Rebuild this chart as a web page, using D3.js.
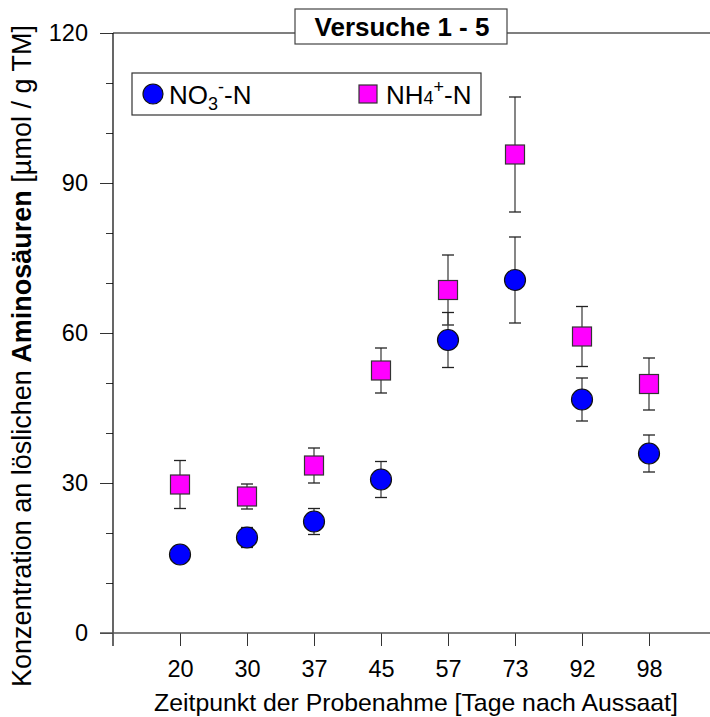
<!DOCTYPE html>
<html>
<head>
<meta charset="utf-8">
<script src="https://cdn.jsdelivr.net/npm/d3@7"></script>
<style>
  html, body { margin: 0; padding: 0; background: #fff; }
  svg { display: block; font-family: Arial, "Liberation Sans", Helvetica, sans-serif; }
</style>
</head>
<body>
<svg id="chart" width="710" height="717"></svg>
<script>
// Sampling days after sowing
const days = [20, 30, 37, 45, 57, 73, 92, 98];

// Soluble amino acids, NO3- fertilised (mean and error)
const no3Mean = [15.7, 19.1, 22.3, 30.7, 58.6, 70.6, 46.7, 35.9];
const no3Err  = [1.0, 2.0, 2.6, 3.6, 5.5, 8.6, 4.3, 3.7];

// Soluble amino acids, NH4+ fertilised (mean and error)
const nh4Mean = [29.7, 27.3, 33.5, 52.5, 68.6, 95.7, 59.3, 49.8];
const nh4Err  = [4.8, 2.5, 3.5, 4.5, 7.0, 11.5, 6.0, 5.2];

const yMajor = [0, 30, 60, 90, 120];
const yMinor = [10, 20, 40, 50, 70, 80, 100, 110];

const svg = d3.select("#chart");

const plotLeft = 113, plotTop = 33, plotBottom = 633, plotRight = 710;
const tickFont = 23.5;

const x = d3.scalePoint().domain(days).range([180, 649]);
const y = d3.scaleLinear().domain([0, 120]).range([plotBottom, plotTop]);

// Top frame line
svg.append("line")
  .attr("x1", plotLeft).attr("x2", plotRight)
  .attr("y1", plotTop).attr("y2", plotTop)
  .attr("stroke", "#000").attr("stroke-width", 1.2);

// Y axis: major ticks with labels
const yAxis = svg.append("g")
  .attr("transform", `translate(${plotLeft},0)`)
  .call(d3.axisLeft(y).tickValues(yMajor).tickSize(13).tickPadding(12).tickFormat(d3.format("d")));
yAxis.select(".domain").remove();
yAxis.selectAll("text").attr("font-size", tickFont).attr("fill", "#000")
  .attr("font-family", "Arial, 'Liberation Sans', sans-serif");
yAxis.selectAll("line").attr("stroke", "#333");

// Y axis: minor ticks
const yMinorAxis = svg.append("g")
  .attr("transform", `translate(${plotLeft},0)`)
  .call(d3.axisLeft(y).tickValues(yMinor).tickSize(7).tickFormat(""));
yMinorAxis.select(".domain").remove();
yMinorAxis.selectAll("line").attr("stroke", "#333");

// Y axis line (runs down past the x axis)
svg.append("line")
  .attr("x1", plotLeft).attr("x2", plotLeft)
  .attr("y1", plotTop).attr("y2", plotBottom + 13)
  .attr("stroke", "#000").attr("stroke-width", 1.2);

// X axis
const xAxis = svg.append("g")
  .attr("transform", `translate(0,${plotBottom})`)
  .call(d3.axisBottom(x).tickSize(13).tickPadding(14));
xAxis.select(".domain").remove();
xAxis.selectAll("text").attr("font-size", tickFont).attr("fill", "#000")
  .attr("font-family", "Arial, 'Liberation Sans', sans-serif");
xAxis.selectAll("line").attr("stroke", "#333");

svg.append("line")
  .attr("x1", plotLeft - 13).attr("x2", plotRight)
  .attr("y1", plotBottom).attr("y2", plotBottom)
  .attr("stroke", "#555").attr("stroke-width", 1.5);

// Axis titles
svg.append("text")
  .attr("x", 416).attr("y", 711)
  .attr("text-anchor", "middle")
  .attr("font-size", 24.8)
  .text("Zeitpunkt der Probenahme [Tage nach Aussaat]");

const yTitle = svg.append("text")
  .attr("transform", "translate(31,356) rotate(-90)")
  .attr("text-anchor", "middle")
  .attr("font-size", 27);
yTitle.append("tspan").text("Konzentration an löslichen ");
yTitle.append("tspan").attr("font-weight", "bold").text("Aminosäuren");
yTitle.append("tspan").text(" [µmol / g TM]");

// Error bars
const capW = 6;
function errorBars(means, errs) {
  const g = svg.append("g");
  days.forEach((d, i) => {
    const cx = x(d), hi = y(means[i] + errs[i]), lo = y(means[i] - errs[i]);
    g.append("line").attr("x1", cx).attr("x2", cx).attr("y1", hi).attr("y2", lo)
      .attr("stroke", "#444").attr("stroke-width", 1.3);
    [hi, lo].forEach(yy => g.append("line")
      .attr("x1", cx - capW).attr("x2", cx + capW).attr("y1", yy).attr("y2", yy)
      .attr("stroke", "#222").attr("stroke-width", 1.3));
  });
}
errorBars(nh4Mean, nh4Err);
errorBars(no3Mean, no3Err);

// NH4+ markers (squares)
const sq = 19;
svg.append("g").selectAll("rect")
  .data(days.map((d, i) => ({ d, v: nh4Mean[i] })))
  .join("rect")
  .attr("x", p => x(p.d) - sq / 2).attr("y", p => y(p.v) - sq / 2)
  .attr("width", sq).attr("height", sq)
  .attr("fill", "#ff00ff").attr("stroke", "#333").attr("stroke-width", 1.2);

// NO3- markers (circles)
svg.append("g").selectAll("circle")
  .data(days.map((d, i) => ({ d, v: no3Mean[i] })))
  .join("circle")
  .attr("cx", p => x(p.d)).attr("cy", p => y(p.v))
  .attr("r", 10.5)
  .attr("fill", "#0000ff").attr("stroke", "#111").attr("stroke-width", 1.2);

// Title box
svg.append("rect")
  .attr("x", 295).attr("y", 9).attr("width", 212).attr("height", 35)
  .attr("fill", "#fff").attr("stroke", "#444").attr("stroke-width", 1.2);
svg.append("text")
  .attr("x", 402).attr("y", 36)
  .attr("text-anchor", "middle")
  .attr("font-size", 26).attr("font-weight", "bold")
  .text("Versuche 1 - 5");

// Legend
const lg = svg.append("g");
lg.append("rect")
  .attr("x", 132).attr("y", 73).attr("width", 349).attr("height", 42)
  .attr("fill", "#fff").attr("stroke", "#333").attr("stroke-width", 1.2);
lg.append("circle").attr("cx", 153).attr("cy", 94).attr("r", 10)
  .attr("fill", "#0000ff").attr("stroke", "#111").attr("stroke-width", 1.2);
const t1 = lg.append("text").attr("x", 169).attr("y", 104).attr("font-size", 26);
t1.append("tspan").text("NO");
t1.append("tspan").attr("font-size", 18).attr("dy", 6).text("3");
t1.append("tspan").attr("font-size", 18).attr("dy", -17).text("-");
t1.append("tspan").attr("dy", 11).text("-N");

lg.append("rect").attr("x", 359).attr("y", 85).attr("width", 18).attr("height", 18)
  .attr("fill", "#ff00ff").attr("stroke", "#333").attr("stroke-width", 1.2);
const t2 = lg.append("text").attr("x", 386).attr("y", 104).attr("font-size", 26);
t2.append("tspan").text("NH");
t2.append("tspan").attr("font-size", 18).text("4");
t2.append("tspan").attr("font-size", 18).attr("dy", -11).text("+");
t2.append("tspan").attr("dy", 11).text("-N");
</script>
</body>
</html>
